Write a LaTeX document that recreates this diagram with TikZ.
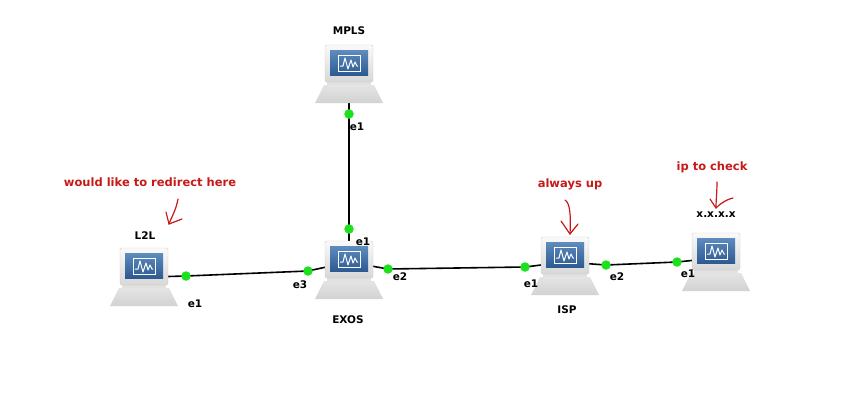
\documentclass[tikz,border=0pt]{standalone}
\usepackage{fontspec}
\setmainfont{DejaVu Sans}
\usetikzlibrary{backgrounds}
\definecolor{portgreen}{RGB}{30,225,30}
\definecolor{notered}{RGB}{200,25,25}
\definecolor{neckgray}{RGB}{225,225,225}
\definecolor{baselight}{RGB}{228,228,228}
\definecolor{basedark}{RGB}{210,210,210}
\definecolor{framelight}{RGB}{250,250,250}
\definecolor{framedark}{RGB}{215,215,215}
\definecolor{frameline}{RGB}{205,205,205}
\definecolor{screenlight}{RGB}{95,140,190}
\definecolor{screendark}{RGB}{45,90,145}
\begin{document}
\begin{tikzpicture}[x=1pt,y=-1pt,
  link/.style={line width=1.6pt, black},
  port/.style={circle, fill=portgreen, inner sep=0pt, minimum size=9.5pt},
  lbl/.style={font=\bfseries\fontsize{10.5}{12}\selectfont, inner sep=0pt},
  note/.style={font=\bfseries\fontsize{11.5}{13}\selectfont, inner sep=0pt, text=notered},
  redarrow/.style={line width=1.2pt, draw=notered, line cap=round, line join=round},
  pc/.pic={
    \fill[neckgray] (-22,35) rectangle (22,41);
    \shade[top color=baselight, bottom color=basedark]
      (-25,40) -- (25,40) -- (34,58) -- (-34,58) -- cycle;
    \shade[top color=framelight, bottom color=framedark, draw=frameline, rounded corners=2pt]
      (-24,0) rectangle (24,37);
    \shade[top color=screenlight, bottom color=screendark]
      (-19,5) rectangle (19,30);
    \draw[white, line width=1pt] (-11,10) rectangle (11,26);
    \draw[white, line width=1pt, line join=round] (-9,21) -- (-6,21) -- (-4,13) -- (-1,24) -- (2,15) -- (4,22) -- (6,17) -- (8,21) -- (9,21);
  }]
\useasboundingbox (0,0) rectangle (862,405);

% connector anchors inside the computers
\coordinate (mplsc) at (349,80);
\coordinate (l2lc) at (150,277);
\coordinate (exosc) at (349,262);
\coordinate (ispc) at (565,262);
\coordinate (hostc) at (716,258);

% computers
\pic at (349,45) {pc};
\pic at (144,248) {pc};
\pic at (349,241) {pc};
\pic at (565,237) {pc};
\pic at (716,233) {pc};

% ports
\node[port] (mpls-e1) at (349,114) {};
\node[port] (exos-e1) at (349,229) {};
\node[port] (l2l-e1) at (186,276) {};
\node[port] (exos-e3) at (308,271) {};
\node[port] (exos-e2) at (388,269) {};
\node[port] (isp-e1) at (525,267) {};
\node[port] (isp-e2) at (606,265) {};
\node[port] (host-e1) at (677,262) {};

% background and links (behind computers and ports)
\begin{scope}[on background layer]
\fill[white] (0,0) rectangle (862,405);
\draw[link] (mplsc) -- (mpls-e1.center) -- (exos-e1.center) -- (exosc);
\draw[link] (l2lc) -- (l2l-e1.center) -- (exos-e3.center) -- (exosc);
\draw[link] (exosc) -- (exos-e2.center) -- (isp-e1.center) -- (ispc);
\draw[link] (ispc) -- (isp-e2.center) -- (host-e1.center) -- (hostc);
\end{scope}

% device labels
\node[lbl] (mpls) at (349,31) {MPLS};
\node[lbl] (l2l) at (145,236) {L2L};
\node[lbl] (exos) at (348,320) {EXOS};
\node[lbl] (isp) at (567,310) {ISP};
\node[lbl] (host) at (716,215) {x.x.x.x};

% port labels
\node[lbl] (t-mpls-e1) at (357,127) {e1};
\node[lbl] (t-exos-e1) at (363,242) {e1};
\node[lbl] (t-exos-e3) at (300,285) {e3};
\node[lbl] (t-exos-e2) at (400,277) {e2};
\node[lbl] (t-l2l-e1) at (195,304) {e1};
\node[lbl] (t-isp-e1) at (531,284) {e1};
\node[lbl] (t-isp-e2) at (617,277) {e2};
\node[lbl] (t-host-e1) at (688,274) {e1};

% notes
\node[note] (n1) at (150,182) {would like to redirect here};
\node[note] (n2) at (570,184) {always up};
\node[note] (n3) at (712,167) {ip to check};

% hand-drawn arrows
\draw[redarrow] (178,199) .. controls (176,210) and (172,216) .. (169,224);
\draw[redarrow] (166,212) -- (169,224) -- (182,219);
\draw[redarrow] (565,200) .. controls (570,203) and (571,215) .. (570,234);
\draw[redarrow] (561,221) -- (570,234) -- (578,224);
\draw[redarrow] (717,182) .. controls (717,192) and (716,200) .. (716,208);
\draw[redarrow] (710,199) -- (716,208) .. controls (722,202) and (728,199) .. (733,198);
\end{tikzpicture}
\end{document}
